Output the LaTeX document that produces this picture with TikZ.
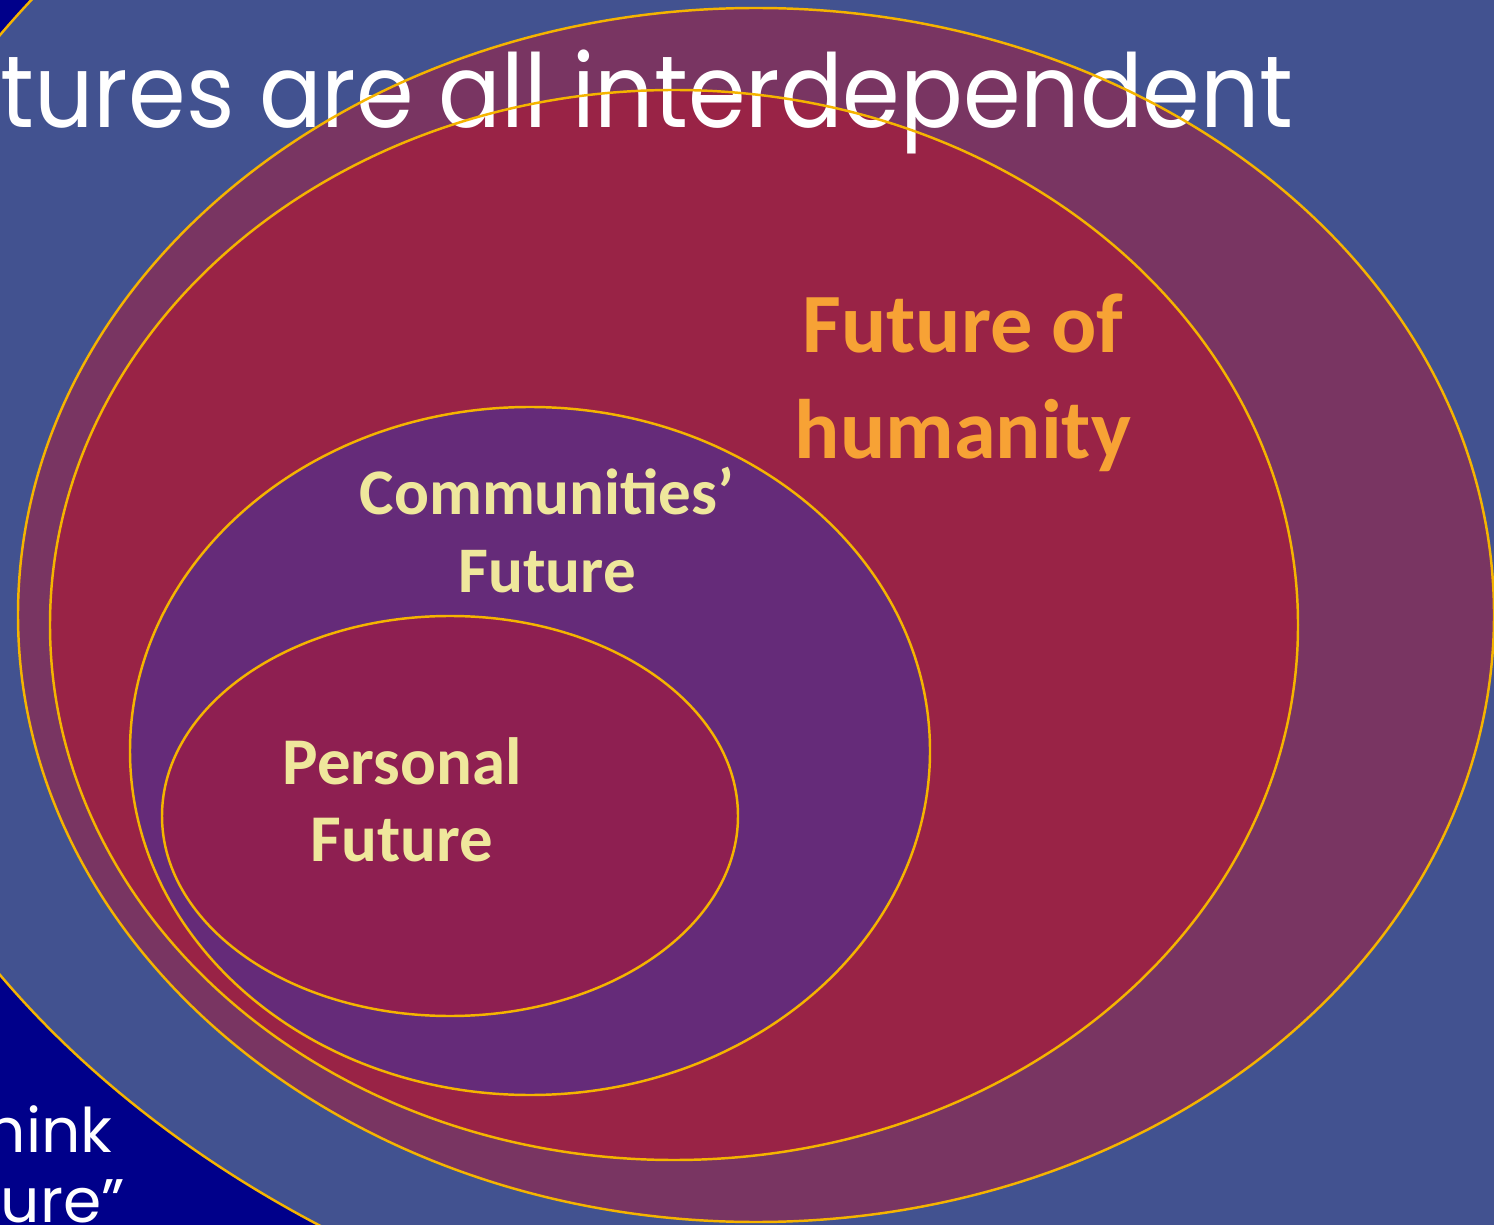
\documentclass[tikz,border=0pt]{standalone}
\usepackage{fontspec}
\setmainfont{Carlito}
\newfontfamily\gothic{Poppins}
\definecolor{navy}{HTML}{00008A}
\definecolor{slate}{HTML}{425290}
\definecolor{mauve}{HTML}{793562}
\definecolor{wine}{HTML}{992346}
\definecolor{grape}{HTML}{652B79}
\definecolor{berry}{HTML}{8E1F51}
\definecolor{gold}{HTML}{F5B400}
\definecolor{amber}{HTML}{F7A235}
\definecolor{cream}{HTML}{EFE79C}
\begin{document}
\begin{tikzpicture}[x=0.01cm,y=-0.01cm,
  rim/.style={draw=gold,line width=0.7pt},
  heading/.style={text=white,inner sep=0pt,font=\gothic\fontsize{29}{34}\selectfont},
  tag/.style={font=\bfseries,align=center,inner sep=0pt}]
  \useasboundingbox (0,0) rectangle (1494,1225);
  \clip (0,0) rectangle (1494,1225);
  \fill[navy] (0,0) rectangle (1494,1225);
  % nested futures, outermost first
  \fill[slate] (1000,505) ellipse [x radius=1182,y radius=881];
  \fill[mauve] (756,615) ellipse [x radius=738,y radius=607];
  \fill[wine]  (674,625) ellipse [x radius=624,y radius=535];
  \fill[grape] (530,751) ellipse [x radius=400,y radius=344];
  \fill[berry] (450,816) ellipse [x radius=288,y radius=200];
  % slide text
  \node[heading,anchor=base west] (title) at (0,128) {\scalebox{0.91}[1]{tures are all interdependent}};
  \node[heading,anchor=base west,font=\gothic\fontsize{17.5}{20}\selectfont] (think) at (-14,1152) {hink};
  \node[heading,anchor=base west,font=\gothic\fontsize{17.5}{20}\selectfont] (future) at (0,1222) {ure”};
  % rims on top
  \draw[rim] (1000,505) ellipse [x radius=1182,y radius=881];
  \draw[rim] (756,615) ellipse [x radius=738,y radius=607];
  \draw[rim] (674,625) ellipse [x radius=624,y radius=535];
  \draw[rim] (530,751) ellipse [x radius=400,y radius=344];
  \draw[rim] (450,816) ellipse [x radius=288,y radius=200];
  % labels
  \node[tag,text=amber,font=\bfseries\fontsize{24}{30}\selectfont] (humanity) at (963,383) {Future of\\humanity};
  \node[tag,text=cream,font=\bfseries\fontsize{18.5}{22.2}\selectfont] (communities) at (547,530) {Communities’\\Future};
  \node[tag,text=cream,font=\bfseries\fontsize{19}{22}\selectfont] (personal) at (402,800) {Personal\\Future};
\end{tikzpicture}
\end{document}
